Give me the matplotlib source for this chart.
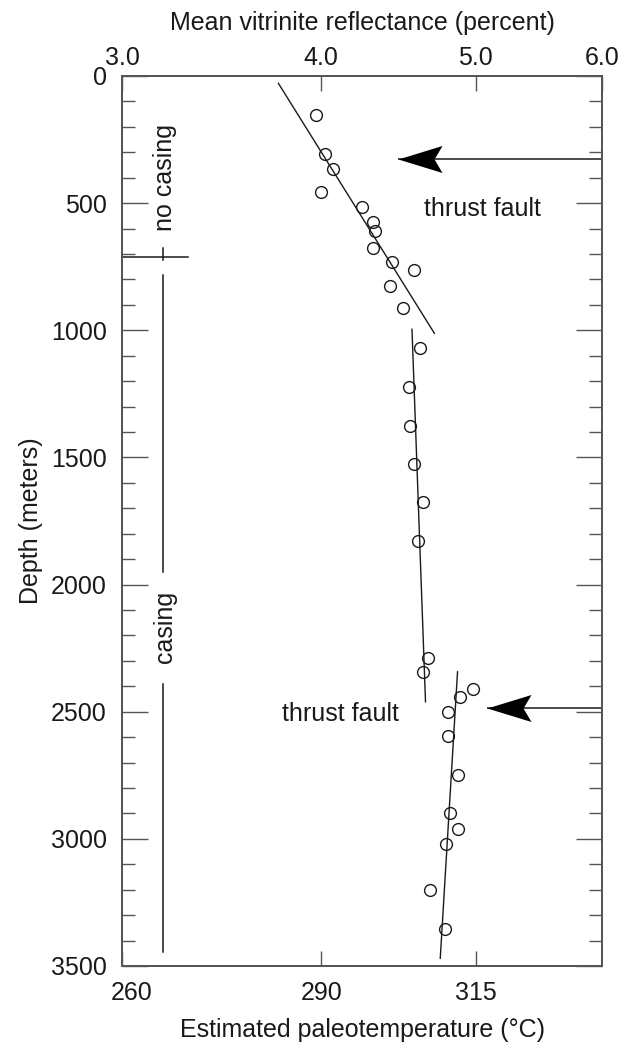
import numpy as np
import matplotlib
matplotlib.use("Agg")
import matplotlib.pyplot as plt
from matplotlib.path import Path
from matplotlib.markers import MarkerStyle
from matplotlib.ticker import FixedLocator, MultipleLocator, NullLocator
from matplotlib.transforms import ScaledTranslation

plt.rcParams['font.family'] = ['Liberation Sans', 'DejaVu Sans']

# Vitrinite reflectance samples (percent) and depth (m), grouped by fault block
refl_upper = [3.97, 4.02, 4.07, 4.00, 4.24, 4.31, 4.32, 4.31, 4.43, 4.57, 4.42, 4.50]
depth_upper = [153, 307, 367, 457, 514, 575, 608, 675, 730, 763, 825, 911]

refl_middle = [4.61, 4.54, 4.55, 4.57, 4.63, 4.60, 4.67, 4.63]
depth_middle = [1069, 1222, 1375, 1526, 1676, 1828, 2290, 2345]

refl_lower = [4.98, 4.89, 4.80, 4.80, 4.87, 4.82, 4.87, 4.79, 4.68, 4.78]
depth_lower = [2411, 2443, 2500, 2596, 2749, 2897, 2961, 3021, 3201, 3354]

# Trend lines for each block: (reflectance, depth) at both ends
trend_upper = ([3.76, 4.71], [29, 1012])
trend_middle = ([4.56, 4.65], [996, 2461])
trend_lower = ([4.87, 4.75], [2343, 3470])

# Thrust faults: arrow tip reflectance and depth
fault_tip_refl = [4.47, 5.085]
fault_depth = [326, 2484]

# Well casing intervals (m)
casing_refl = 3.183
casing_top = 710
casing_segments = [(782, 1949), (2391, 3444)]

# Axis ticks
refl_ticks = [3.0, 4.0, 5.0, 6.0]
refl_labels = ["3.0", "4.0", "5.0", "6.0"]
temp_tick_pos = [3.0, 4.0, 5.0]
temp_labels = ["260", "290", "315"]
depth_ticks = [0, 500, 1000, 1500, 2000, 2500, 3000, 3500]

ink = "#1a1a1a"
spine_col = "#555555"
fs = 18

fig = plt.figure(figsize=(6.3, 10.45), dpi=100)
ax = fig.add_axes([0.1937, 0.0756, 0.7619, 0.8517])
ax.set_xscale('log')
ax.set_xlim(3.0, 6.0)
ax.set_ylim(3500, 0)

# Bottom axis: estimated paleotemperature
ax.xaxis.set_major_locator(FixedLocator(temp_tick_pos))
ax.xaxis.set_minor_locator(NullLocator())
ax.set_xticklabels(temp_labels)
ax.tick_params(axis='x', direction='in', length=10.8, width=1.0, color=spine_col,
               labelsize=fs, pad=10.5, labelcolor=ink)
ax.set_xlabel("Estimated paleotemperature (°C)", fontsize=fs, color=ink)
ax.xaxis.set_label_coords(0.5, -0.058)

# Depth axis with ticks on both sides
ax.yaxis.set_major_locator(FixedLocator(depth_ticks))
ax.yaxis.set_minor_locator(MultipleLocator(100))
ax.tick_params(axis='y', which='major', direction='in', length=18.7, width=1.0,
               color=spine_col, left=True, right=True, labelsize=fs, pad=11,
               labelcolor=ink)
ax.tick_params(axis='y', which='minor', direction='in', length=9.4, width=1.0,
               color=spine_col, left=True, right=True)
ax.set_ylabel("Depth (meters)", fontsize=fs, color=ink)
ax.yaxis.set_label_coords(-0.165, 0.5)

# Nudge the corner temperature label off the depth axis
bottom_ticks = ax.xaxis.get_major_ticks()
first_lab = bottom_ticks[0].label1
first_lab.set_transform(first_lab.get_transform() +
                        ScaledTranslation(0.10, 0, fig.dpi_scale_trans))

# Top axis: mean vitrinite reflectance
top = ax.twiny()
top.set_xscale('log')
top.set_xlim(3.0, 6.0)
top.xaxis.set_major_locator(FixedLocator(refl_ticks))
top.xaxis.set_minor_locator(NullLocator())
top.set_xticklabels(refl_labels)
top.tick_params(axis='x', direction='in', length=10.8, width=1.0, color=spine_col,
                labelsize=fs, pad=4, labelcolor=ink)
top.set_xlabel("Mean vitrinite reflectance (percent)", fontsize=fs, color=ink)
top.xaxis.set_label_coords(0.5, 1.052)

for a in (ax, top):
    for s in a.spines.values():
        s.set_color(spine_col)
        s.set_linewidth(1.3)

# Samples
mk = dict(linestyle='none', marker='o', markersize=8.5, markerfacecolor='none',
          markeredgecolor=ink, markeredgewidth=1.0)
ax.plot(refl_upper, depth_upper, **mk)
ax.plot(refl_middle, depth_middle, **mk)
ax.plot(refl_lower, depth_lower, **mk)

# Trend lines
for xs, ys in (trend_upper, trend_middle, trend_lower):
    ax.plot(xs, ys, color=ink, lw=1.0)

# Thrust fault arrows: line from right edge to a notched arrowhead
head = Path([(0, 0), (44, 13.5), (36, 0), (44, -13.5), (0, 0)],
            [Path.MOVETO, Path.LINETO, Path.LINETO, Path.LINETO, Path.CLOSEPOLY])
head_marker = MarkerStyle(head)
for xt, d in zip(fault_tip_refl, fault_depth):
    ax.plot([xt, 6.0], [d, d], color=ink, lw=1.1, solid_capstyle='butt')
    ax.plot([xt], [d], linestyle='none', marker=head_marker, markersize=63.4,
            markerfacecolor='black', markeredgewidth=0)

ax.text(5.05, 523, "thrust fault", fontsize=fs, color=ink, ha='center', va='center')
ax.text(4.11, 2509, "thrust fault", fontsize=fs, color=ink, ha='center', va='center')

# Casing annotations
ax.plot([3.0, 3.30], [casing_top, casing_top], color=ink, lw=1.1, clip_on=False)
ax.plot([casing_refl, casing_refl], [676, 722], color=ink, lw=1.1)
for d0, d1 in casing_segments:
    ax.plot([casing_refl, casing_refl], [d0, d1], color=ink, lw=1.1)
ax.text(3.192, 401, "no casing", fontsize=fs, color=ink, rotation=90,
        ha='center', va='center')
ax.text(3.192, 2167, "casing", fontsize=fs, color=ink, rotation=90,
        ha='center', va='center')

fig.savefig("out.png", dpi=100)
